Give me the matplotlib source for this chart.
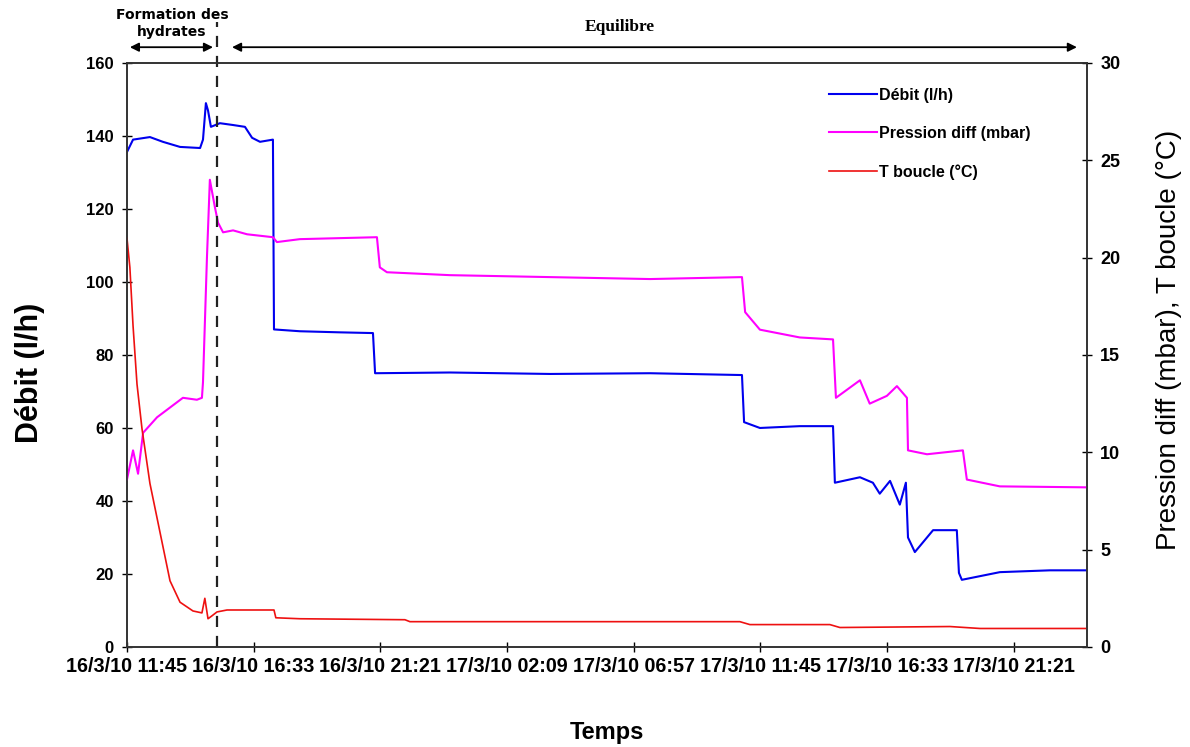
import matplotlib
matplotlib.use("Agg")
import matplotlib.pyplot as plt
import matplotlib.transforms as mtransforms

# ---- data (time in hours since 16/3/10 11:45) ----
debit_t = [0.00, 0.23, 0.87, 1.36, 2.01, 2.77, 2.88, 2.99, 3.07, 3.18, 3.52, 4.02, 4.47, 4.74,
           5.04, 5.53, 5.57, 6.55, 8.07, 9.32, 9.40, 12.24, 16.03, 19.82, 23.30, 23.38, 23.98,
           25.49, 26.75, 26.82, 27.77, 28.26, 28.52, 28.91, 29.28, 29.51, 29.59, 29.85, 30.54,
           31.44, 31.52, 31.63, 33.07, 34.97, 36.37]
debit_v = [135.6, 139, 139.7, 138.4, 137, 136.7, 139, 149, 147, 142.5, 143.5, 143, 142.5, 139.5,
           138.4, 139, 87, 86.5, 86.2, 86, 75, 75.2, 74.8, 75, 74.5, 61.6, 60,
           60.5, 60.5, 45, 46.5, 45, 42, 45.5, 39, 45, 30, 26, 32,
           32, 20.3, 18.4, 20.5, 21, 21]

pression_t = [0.00, 0.23, 0.42, 0.61, 1.14, 1.63, 2.12, 2.65, 2.84, 2.88, 3.03, 3.14, 3.33, 3.45,
              3.64, 4.02, 4.55, 5.53, 5.68, 6.55, 9.47, 9.58, 9.85, 12.24, 16.03, 19.82, 23.30,
              23.42, 23.98, 25.49, 26.75, 26.86, 27.77, 28.14, 28.79, 29.17, 29.55, 29.59, 30.31,
              30.99, 31.67, 31.82, 33.07, 36.37]
pression_v = [8.6, 10.1, 8.9, 11.0, 11.8, 12.3, 12.8, 12.7, 12.8, 13.6, 20.0, 24.0, 22.6, 21.8,
              21.3, 21.4, 21.2, 21.05, 20.8, 20.95, 21.05, 19.5, 19.25, 19.1, 19.0, 18.9, 19.0,
              17.2, 16.3, 15.9, 15.8, 12.8, 13.7, 12.5, 12.9, 13.4, 12.8, 10.1, 9.9,
              10.0, 10.1, 8.6, 8.25, 8.2]

tboucle_t = [0.00, 0.11, 0.23, 0.38, 0.57, 0.87, 1.25, 1.63, 2.01, 2.50, 2.84, 2.95, 3.07, 3.22,
             3.41, 3.79, 5.57, 5.64, 6.55, 10.53, 10.72, 23.22, 23.60, 26.63, 27.01, 31.18,
             32.32, 36.37]
tboucle_v = [21.0, 19.5, 16.5, 13.5, 11.2, 8.4, 5.9, 3.4, 2.3, 1.85, 1.75, 2.5, 1.45, 1.6,
             1.8, 1.9, 1.9, 1.5, 1.45, 1.4, 1.3, 1.3, 1.15, 1.15, 1.0, 1.05,
             0.95, 0.95]

xtick_pos = [0, 4.8, 9.6, 14.4, 19.2, 24.0, 28.8, 33.6]
xtick_labels = ["16/3/10 11:45", "16/3/10 16:33", "16/3/10 21:21", "17/3/10 02:09",
                "17/3/10 06:57", "17/3/10 11:45", "17/3/10 16:33", "17/3/10 21:21"]
t_formation_end = 3.41
x_max = 36.37

sans = ['Liberation Sans', 'DejaVu Sans']

fig = plt.figure(figsize=(11.9, 7.47), dpi=100)
ax = fig.add_axes([0.1067, 0.1339, 0.8067, 0.7818])
ax2 = ax.twinx()

c_blue = '#0000ee'
c_mag = '#ff00ff'
c_red = '#ee1111'

l1, = ax.plot(debit_t, debit_v, color=c_blue, lw=1.5, label='Débit (l/h)')
l2, = ax2.plot(pression_t, pression_v, color=c_mag, lw=1.5, label='Pression diff (mbar)')
l3, = ax2.plot(tboucle_t, tboucle_v, color=c_red, lw=1.2, label='T boucle (°C)')

ax.set_xlim(0, x_max)
ax.set_ylim(0, 160)
ax2.set_ylim(0, 30)
ax.set_yticks(range(0, 161, 20))
ax2.set_yticks(range(0, 31, 5))
ax.set_xticks(xtick_pos)
ax.set_xticklabels(xtick_labels, fontfamily=sans, fontweight='bold', fontsize=14.2)
for lab in ax.get_yticklabels():
    lab.set_fontfamily(sans); lab.set_fontweight('bold'); lab.set_fontsize(12)
for lab in ax2.get_yticklabels():
    lab.set_fontfamily(sans); lab.set_fontweight('bold'); lab.set_fontsize(13)

ax.tick_params(axis='y', direction='inout', length=7, width=1, pad=6)
ax.tick_params(axis='x', direction='inout', length=7, width=1, pad=4)
ax2.tick_params(axis='y', direction='inout', length=7, width=1, pad=6)
for a in (ax, ax2):
    for s in a.spines.values():
        s.set_color('#333333'); s.set_linewidth(1.2)

ax.set_ylabel('Débit (l/h)', fontfamily=sans, fontweight='bold', fontsize=22)
ax.yaxis.set_label_coords(-0.085, 0.47)
ax2.set_ylabel('Pression diff (mbar), T boucle (°C)', fontfamily=sans, fontsize=20)
ax2.yaxis.set_label_coords(1.072, 0.526)
ax.set_xlabel('Temps', fontfamily=sans, fontweight='bold', fontsize=17, labelpad=32)

# dashed separation line
ax2.axvline(t_formation_end, ymin=0, ymax=1.07, color='#222222', lw=1.6,
            ls=(0, (5, 4)), clip_on=False)

trans = mtransforms.blended_transform_factory(ax.transData, ax.transAxes)
arrow_kw = dict(arrowstyle='<|-|>', color='black', lw=1.3, mutation_scale=13,
                shrinkA=0, shrinkB=0)
ax2.annotate('', xy=(0.11, 1.027), xytext=(3.26, 1.027), xycoords=trans, textcoords=trans,
             arrowprops=arrow_kw, annotation_clip=False)
ax2.annotate('', xy=(3.98, 1.027), xytext=(35.99, 1.027), xycoords=trans, textcoords=trans,
             arrowprops=arrow_kw, annotation_clip=False)
ax2.text(1.70, 1.082, 'Formation des', transform=trans, ha='center', va='center',
         fontfamily=['DejaVu Sans'], fontweight='bold', fontsize=10)
ax2.text(1.70, 1.053, 'hydrates', transform=trans, ha='center', va='center',
         fontfamily=['DejaVu Sans'], fontweight='bold', fontsize=10)
ax2.text(18.68, 1.062, 'Equilibre', transform=trans, ha='center', va='center',
         fontfamily=['Liberation Serif'], fontweight='bold', fontsize=12.5)

leg = ax2.legend(handles=[l1, l2, l3], loc='upper left', bbox_to_anchor=(0.690, 0.893),
                 bbox_transform=fig.transFigure, frameon=False,
                 prop={'family': sans, 'weight': 'bold', 'size': 11.5},
                 handlelength=3.0, handletextpad=0.15, labelspacing=1.45, borderpad=0)

fig.savefig('out.png', dpi=100)
